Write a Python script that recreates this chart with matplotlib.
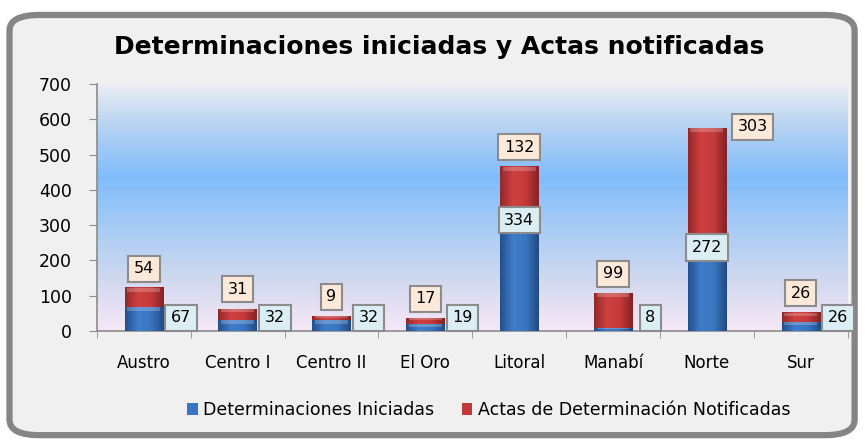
import numpy as np
import matplotlib
matplotlib.use("Agg")
from matplotlib import pyplot as plt
from matplotlib.patches import FancyBboxPatch, Rectangle
from matplotlib.colors import LinearSegmentedColormap

# data
regions = ["Austro", "Centro I", "Centro II", "El Oro", "Litoral", "Manabí", "Norte", "Sur"]
iniciadas = [67, 32, 32, 19, 334, 8, 272, 26]
notificadas = [54, 31, 9, 17, 132, 99, 303, 26]
title = "Determinaciones iniciadas y Actas notificadas"
legend_labels = ["Determinaciones Iniciadas", "Actas de Determinación Notificadas"]
yticks = [0, 100, 200, 300, 400, 500, 600, 700]

fig = plt.figure(figsize=(8.65, 4.4), dpi=100)
fig.patch.set_facecolor("white")

# rounded grey frame
frame = FancyBboxPatch((0.011, 0.011), 0.977, 0.955, boxstyle="round,pad=0,rounding_size=0.035",
                       transform=fig.transFigure, facecolor="#f0f0f0", edgecolor="#858585",
                       linewidth=4.5, zorder=-5)
fig.patches.append(frame)

ax = fig.add_axes([0.112, 0.248, 0.868, 0.561])
ax.set_zorder(2)
ax.set_facecolor("none")

x = np.arange(len(regions))

# plot area gradient: lavender bottom -> blue -> pale top
bg = LinearSegmentedColormap.from_list("bg", [(0.0, "#f6e8f7"), (0.2, "#d2d9ee"),
                                              (0.45, "#a2c9f6"), (0.62, "#80bcfb"),
                                              (0.85, "#bcd5f2"), (1.0, "#eceef2")])
grad = np.linspace(0, 1, 256).reshape(-1, 1)
ax.imshow(grad, extent=[-0.5, len(regions) - 0.5, 0, 700], origin="lower", cmap=bg,
          aspect="auto", zorder=0)

w = 0.41
b1 = ax.bar(x, iniciadas, w, color="#3a74c2", zorder=2)
b2 = ax.bar(x, notificadas, w, bottom=iniciadas, color="#c3393a", zorder=2)

# horizontal shading on bars for the glossy look
blue_cm = LinearSegmentedColormap.from_list("b", ["#24508c", "#3f7cc9", "#3a76c0", "#214a84"])
red_cm = LinearSegmentedColormap.from_list("r", ["#94282a", "#cf4142", "#c43a3b", "#862224"])
hgrad = np.linspace(0, 1, 64).reshape(1, -1)
for bars, cm in ((b1, blue_cm), (b2, red_cm)):
    for p in bars:
        if p.get_height() <= 0:
            continue
        x0, y0 = p.get_x(), p.get_y()
        ax.imshow(hgrad, extent=[x0, x0 + p.get_width(), y0, y0 + p.get_height()],
                  cmap=cm, aspect="auto", zorder=3)
        # light bevel on top of each segment
        cap = min(p.get_height() * 0.35, 12)
        ax.add_patch(Rectangle((x0 + 0.03, y0 + p.get_height() - cap), p.get_width() - 0.06, cap,
                               facecolor="white", alpha=0.22, edgecolor="none", zorder=4))

ax.set_xlim(-0.5, len(regions) - 0.5)
ax.set_ylim(0, 700)

# labels
blue_box = dict(boxstyle="square,pad=0.35", facecolor="#dbeef4", edgecolor="#8c8c8c", linewidth=1.5)
red_box = dict(boxstyle="square,pad=0.35", facecolor="#fde9d9", edgecolor="#8c8c8c", linewidth=1.5)
inside_dy = {"Litoral": -5, "Norte": -9}

for i, v in enumerate(iniciadas):
    if regions[i] in inside_dy:
        ax.annotate(str(v), (x[i], v), xytext=(0, inside_dy[regions[i]]), textcoords="offset points",
                    ha="center", va="center", fontsize=11.5, bbox=blue_box, zorder=6)
    else:
        ax.annotate(str(v), (x[i] + w / 2, 0), xytext=(13, 9.5), textcoords="offset points",
                    ha="center", va="center", fontsize=11.5, bbox=blue_box, zorder=6)

for i, v in enumerate(notificadas):
    top = iniciadas[i] + v
    if regions[i] == "Norte":
        ax.annotate(str(v), (x[i] + w / 2, top), xytext=(19, 1), textcoords="offset points",
                    ha="center", va="center", fontsize=11.5, bbox=red_box, zorder=6)
    else:
        ax.annotate(str(v), (x[i], top), xytext=(0, 14), textcoords="offset points",
                    ha="center", va="center", fontsize=11.5, bbox=red_box, zorder=6)

ax.set_yticks(yticks)
ax.set_xticks(x)
ax.set_xticklabels(regions, fontsize=12)
ax.set_xticks(np.arange(-0.5, len(regions)), minor=True)
ax.tick_params(axis="x", which="major", length=0, pad=17)
ax.tick_params(axis="x", which="minor", length=5, color="#8c8c8c")
ax.tick_params(axis="y", length=6, color="#8c8c8c", labelsize=12.5, pad=12)
for s in ("top", "right"):
    ax.spines[s].set_visible(False)
for s in ("left", "bottom"):
    ax.spines[s].set_color("#8c8c8c")
    ax.spines[s].set_linewidth(1.2)

fig.text(0.508, 0.893, title, ha="center", va="center", fontsize=18, fontweight="bold")

leg = fig.legend([b1, b2], legend_labels, loc="center", bbox_to_anchor=(0.565, 0.068), ncol=2,
                 frameon=False, fontsize=12.5, handlelength=0.6, handleheight=0.7,
                 handletextpad=0.3, columnspacing=1.6)

fig.savefig("out.png", dpi=100, facecolor=fig.get_facecolor())
